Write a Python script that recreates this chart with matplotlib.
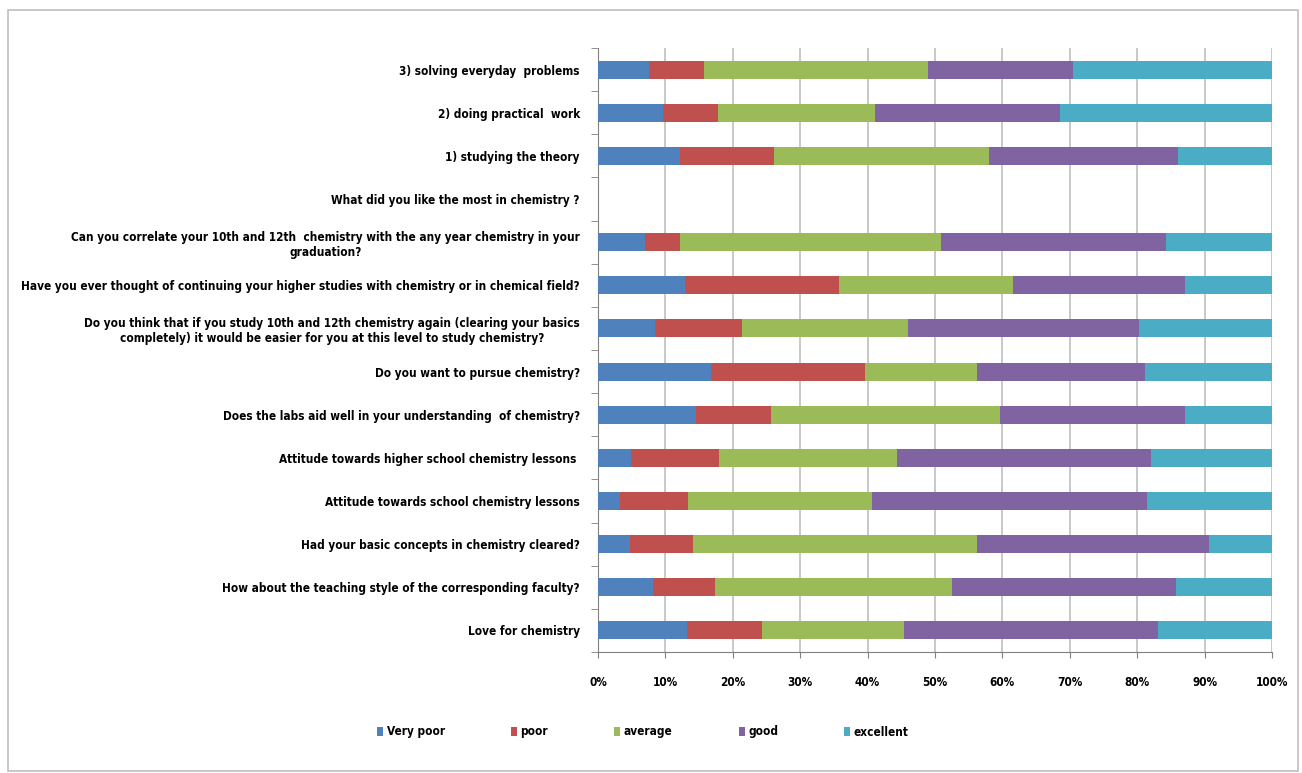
"""
100% stacked horizontal bars of chemistry survey responses
"""
import numpy as np
import matplotlib
matplotlib.use('Agg')
import matplotlib.pyplot as plt
from matplotlib.patches import Rectangle

plt.rcParams['font.family'] = ['DejaVu Sans Condensed', 'Liberation Sans Narrow', 'DejaVu Sans']
plt.rcParams['font.stretch'] = 'condensed'

# questions, top to bottom
questions = [
    "3) solving everyday  problems",
    "2) doing practical  work",
    "1) studying the theory",
    "What did you like the most in chemistry ?",
    "Can you correlate your 10th and 12th  chemistry with the any year chemistry in your\ngraduation?",
    "Have you ever thought of continuing your higher studies with chemistry or in chemical field?",
    "Do you think that if you study 10th and 12th chemistry again (clearing your basics\ncompletely) it would be easier for you at this level to study chemistry?",
    "Do you want to pursue chemistry?",
    "Does the labs aid well in your understanding  of chemistry?",
    "Attitude towards higher school chemistry lessons ",
    "Attitude towards school chemistry lessons",
    "Had your basic concepts in chemistry cleared?",
    "How about the teaching style of the corresponding faculty?",
    "Love for chemistry",
]

ratings = ['Very poor', 'poor', 'average', 'good', 'excellent']
colors = ['#4F81BD', '#C0504D', '#9BBB59', '#8064A2', '#4BACC6']

very_poor = [7.5, 9.7, 12.1, 0, 7.0, 12.9, 8.4, 16.8, 14.5, 4.9, 3.3, 4.8, 8.1, 13.2]
poor = [8.2, 8.1, 14.0, 0, 5.2, 22.8, 13.0, 22.8, 11.2, 13.1, 10.1, 9.3, 9.3, 11.2]
average = [33.2, 23.3, 31.9, 0, 38.7, 25.8, 24.6, 16.6, 34.0, 26.3, 27.2, 42.1, 35.1, 21.0]
good = [21.6, 27.5, 28.0, 0, 33.3, 25.6, 34.2, 25.0, 27.4, 37.7, 40.8, 34.4, 33.3, 37.7]
excellent = [29.5, 31.4, 14.0, 0, 15.8, 12.9, 19.8, 18.8, 12.9, 18.0, 18.6, 9.4, 14.2, 16.9]

series = np.array([very_poor, poor, average, good, excellent], dtype=float)
totals = series.sum(axis=0)
totals[totals == 0] = 1
shares = series / totals * 100

FS = 8.5

fig = plt.figure(figsize=(13.02, 7.73), dpi=100)
ax = fig.add_axes([598 / 1302, 1 - 652 / 773, 674 / 1302, 604 / 773])

# frame of the chart area
fig.patches.append(Rectangle((8 / 1302, 0.002), 1290 / 1302, 1 - 10 / 773 - 0.002,
                             transform=fig.transFigure, fill=False,
                             edgecolor='#BFBFBF', linewidth=1.2))

ypos = np.arange(len(questions))
left = np.zeros(len(questions))
for vals, name, col in zip(shares, ratings, colors):
    ax.barh(ypos, vals, left=left, height=0.42, color=col, label=name, zorder=3)
    left += vals

ax.set_xlim(0, 100)
ax.set_ylim(len(questions) - 0.5, -0.5)
ax.set_xticks(np.arange(0, 101, 10))
ax.set_xticklabels([f'{v}%' for v in range(0, 101, 10)], fontsize=FS, fontweight='bold')
ax.xaxis.grid(True, color='#BFBFBF', linewidth=1.2, zorder=0)
ax.tick_params(axis='x', length=4, color='#808080', pad=13)

ax.set_yticks(ypos)
ax.set_yticklabels(questions, fontsize=FS, fontweight='bold')
for lbl in ax.get_yticklabels():
    lbl.set_multialignment('center')
ax.set_yticks(np.arange(-0.5, len(questions), 1), minor=True)
ax.tick_params(axis='y', which='major', length=0, pad=13)
ax.tick_params(axis='y', which='minor', length=5, color='#808080')

for side in ['top', 'right']:
    ax.spines[side].set_visible(False)
ax.spines['left'].set_color('#808080')
ax.spines['bottom'].set_color('#808080')

fig.legend(loc='center', bbox_to_anchor=(643 / 1302, 1 - 732 / 773), ncol=5,
           frameon=False, handlelength=0.5, handleheight=0.7, handletextpad=0.3,
           columnspacing=5.6, prop={'size': FS, 'weight': 'bold'})

plt.savefig('out.png', dpi=100)
plt.close(fig)
